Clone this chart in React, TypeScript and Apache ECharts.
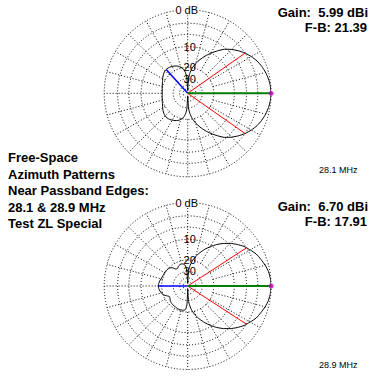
import React, { useEffect, useRef } from "react";
import * as echarts from "echarts";

// ARRL log polar scale: every 2 dB down multiplies the radius by 0.89
const ARRL_FACTOR = 0.89;
const toR = (db: number) => Math.pow(ARRL_FACTOR, -db / 2);

const ringDb = [0, -3, -6, -10, -20, -30, -40, -50];
const ringLabelDb = [0, -10, -20, -30];
const ringLabelText = ["0 dB", "10", "20", "30"];
const spokeAngles = [0, 15, 30, 45, 60, 75, 90, 105, 120, 135, 150, 165, 180, 195, 210, 225, 240, 255, 270, 285, 300, 315, 330, 345];
const spokeInnerDb = -20;
const halfPowerDb = -3;

// 28.1 MHz pattern (degrees CCW from forward, dB relative to max)
const topAngles = [0, 5, 10, 15, 20, 25, 30, 35, 40, 45, 50, 55, 60, 65, 70, 75, 80, 84, 87, 90, 93, 96, 100, 105, 110, 115, 120, 125, 130, 135, 140, 145, 150, 155, 160, 165, 170, 175, 180, 185, 190, 195, 200, 205, 210, 215, 220, 225, 230, 235, 240, 245, 250, 255, 260, 264, 267, 270, 273, 276, 280, 285, 290, 295, 300, 305, 310, 315, 320, 325, 330, 335, 340, 345, 350, 355, 360];
const topDb = [0, -0.1, -0.3, -0.6, -1.0, -1.5, -2.2, -3.0, -4.0, -5.1, -6.4, -8.2, -10.1, -12.2, -14.5, -17.1, -20.4, -24.5, -30, -60, -29, -24, -21, -19.3, -18.2, -17.5, -17.0, -16.6, -16.4, -16.5, -16.9, -17.5, -18.2, -18.9, -19.4, -19.8, -20.1, -20.3, -20.4, -20.3, -20.1, -19.8, -19.4, -18.9, -18.2, -17.5, -16.9, -16.5, -16.4, -16.6, -17.0, -17.5, -18.2, -19.3, -21, -24, -29, -60, -30, -24.5, -20.4, -17.1, -14.5, -12.2, -10.1, -8.2, -6.4, -5.1, -4.0, -3.0, -2.2, -1.5, -1.0, -0.6, -0.3, -0.1, 0];
const topBeamEdges = [35, 325];
const topRearAngle = 132;
const topRearDb = -16.4;

// 28.9 MHz pattern
const botAngles = [0, 5, 10, 15, 20, 25, 30, 33, 35, 40, 45, 50, 55, 60, 65, 70, 75, 80, 84, 87, 90, 93, 96, 100, 105, 110, 115, 120, 125, 130, 135, 140, 145, 150, 155, 160, 165, 170, 175, 180, 185, 190, 195, 200, 205, 210, 215, 220, 225, 230, 235, 240, 245, 250, 255, 260, 265, 268, 270, 273, 276, 280, 285, 290, 295, 300, 305, 310, 315, 320, 325, 327, 330, 335, 340, 345, 350, 355, 360];
const botDb = [0, -0.1, -0.3, -0.7, -1.2, -1.7, -2.5, -3.0, -3.3, -4.4, -5.6, -7.0, -8.6, -10.4, -12.4, -14.7, -17.3, -20.6, -24.6, -30, -60, -30, -24.5, -22.8, -22.2, -22.3, -23.0, -24.3, -24.0, -21.5, -20.4, -19.9, -19.7, -19.6, -19.5, -19.3, -19.0, -18.5, -18.1, -17.9, -18.1, -18.6, -19.2, -20.2, -22.0, -23.6, -23.2, -22.3, -21.8, -21.5, -21.3, -21.2, -20.9, -20.7, -20.8, -21.0, -21.8, -27, -60, -30, -24.6, -20.6, -17.3, -14.7, -12.4, -10.4, -8.6, -7.0, -5.6, -4.4, -3.3, -3.0, -2.5, -1.7, -1.2, -0.7, -0.3, -0.1, 0];
const botBeamEdges = [33, 327];
const botRearAngle = 180;
const botRearDb = -17.91;

const titleLines = ["Free-Space", "Azimuth Patterns", "Near Passband Edges:", "28.1 & 28.9 MHz", "Test ZL Special"];
const gainTexts = ["Gain:  5.99 dBi", "Gain:  6.70 dBi"];
const fbTexts = ["F-B: 21.39", "F-B: 17.91"];
const freqTexts = ["28.1 MHz", "28.9 MHz"];

const FONT = "'Liberation Sans', Arial, sans-serif";

function plotSeries(pi: number, angles: number[], dbs: number[], edges: number[], rearAngle: number, rearDb: number) {
  const gridRings = {
    type: "custom", coordinateSystem: "polar", polarIndex: pi, silent: true, z: 1,
    data: ringDb.map((d) => [toR(d), 90]),
    renderItem: (params: any, api: any) => {
      const r = api.value(0);
      const c = api.coord([0, 0]);
      const p = api.coord([r, 0]);
      const rad = Math.hypot(p[0] - c[0], p[1] - c[1]);
      return { type: "circle", shape: { cx: c[0], cy: c[1], r: rad }, style: { fill: "none", stroke: "#000", lineWidth: 1, lineDash: [1, 2] } };
    },
  };
  const spokes = {
    type: "custom", coordinateSystem: "polar", polarIndex: pi, silent: true, z: 1,
    data: spokeAngles.map((a) => [1, a]),
    renderItem: (params: any, api: any) => {
      const a = api.value(1);
      const p0 = api.coord([toR(spokeInnerDb), a]);
      const p1 = api.coord([1, a]);
      return { type: "line", shape: { x1: p0[0], y1: p0[1], x2: p1[0], y2: p1[1] }, style: { stroke: "#000", lineWidth: 1, lineDash: [1, 2] } };
    },
  };
  const labels = {
    type: "custom", coordinateSystem: "polar", polarIndex: pi, silent: true, z: 3,
    data: ringLabelDb.map((d) => [toR(d), 90]),
    renderItem: (params: any, api: any) => {
      const p = api.coord([api.value(0), 90]);
      const t = ringLabelText[params.dataIndex];
      return { type: "text", x: p[0] + (t === "0 dB" ? -1 : 2), y: p[1], style: { text: t, fill: "#000", font: "11px " + FONT, align: "center", verticalAlign: "middle", backgroundColor: t === "0 dB" ? "#fff" : "transparent" } };
    },
  };
  const pattern = {
    type: "line", coordinateSystem: "polar", polarIndex: pi, z: 4, symbol: "none", smooth: 0.2,
    lineStyle: { color: "#000", width: 1 },
    data: angles.map((a, i) => [toR(dbs[i]), a]),
  };
  const red = edges.map((a) => ({
    type: "line", coordinateSystem: "polar", polarIndex: pi, z: 5, symbol: "none",
    lineStyle: { color: "#ff0000", width: 1 },
    data: [[0, a], [toR(halfPowerDb), a]],
  }));
  const blue = {
    type: "line", coordinateSystem: "polar", polarIndex: pi, z: 5, symbol: "none",
    lineStyle: { color: "#0000ff", width: 1.5 },
    data: [[0, rearAngle], [toR(rearDb), rearAngle]],
  };
  const green = {
    type: "line", coordinateSystem: "polar", polarIndex: pi, z: 6, symbol: "none",
    lineStyle: { color: "#007f00", width: 2 },
    data: [[0, 0], [1, 0]],
  };
  const peak = {
    type: "scatter", coordinateSystem: "polar", polarIndex: pi, z: 7, symbol: "circle", symbolSize: 5,
    itemStyle: { color: "#c000c0" },
    data: [[1, 0]],
  };
  return [gridRings, spokes, pattern, ...red, blue, green, peak, labels];
}

export default function App() {
  const ref = useRef<HTMLDivElement>(null);
  useEffect(() => {
    if (!ref.current) return;
    const chart = echarts.init(ref.current, null, { renderer: "svg" });
    const graphic: any[] = [];
    titleLines.forEach((t, i) => {
      graphic.push({ type: "text", left: 8, top: 151 + i * 16.5, style: { text: t, font: "bold 13px " + FONT, fill: "#000" } });
    });
    [0, 1].forEach((k) => {
      const y0 = k === 0 ? 6 : 200;
      graphic.push({ type: "text", right: 8, top: y0, style: { text: gainTexts[k], font: "bold 13px " + FONT, fill: "#000" } });
      graphic.push({ type: "text", right: 9, top: y0 + 15, style: { text: fbTexts[k], font: "bold 13px " + FONT, fill: "#000" } });
      graphic.push({ type: "text", left: 319, top: k === 0 ? 165 : 360, style: { text: freqTexts[k], font: "9px " + FONT, fill: "#000" } });
    });
    chart.setOption({
      animation: false,
      backgroundColor: "#fff",
      polar: [
        { center: [187.7, 93.3], radius: 83.5 },
        { center: [187.7, 286], radius: 83.5 },
      ],
      radiusAxis: [0, 1].map((i) => ({ polarIndex: i, type: "value", min: 0, max: 1, show: false })),
      angleAxis: [0, 1].map((i) => ({ polarIndex: i, type: "value", min: 0, max: 360, startAngle: 0, clockwise: false, show: false })),
      graphic,
      series: [
        ...plotSeries(0, topAngles, topDb, topBeamEdges, topRearAngle, topRearDb),
        ...plotSeries(1, botAngles, botDb, botBeamEdges, botRearAngle, botRearDb),
      ],
    });
    return () => chart.dispose();
  }, []);
  return <div ref={ref} style={{ position: "absolute", left: 0, top: 0, width: 376, height: 380 }} />;
}
